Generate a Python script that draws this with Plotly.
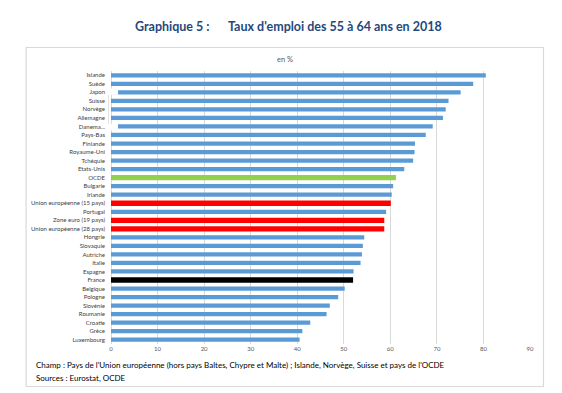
import plotly.graph_objects as go

categories = ["Islande", "Suède", "Japon", "Suisse", "Norvège", "Allemagne", "Danemark",
              "Pays-Bas", "Finlande", "Royaume-Uni", "Tchéquie", "Etats-Unis", "OCDE",
              "Bulgarie", "Irlande", "Union européenne (15 pays)", "Portugal",
              "Zone euro (19 pays)", "Union européenne (28 pays)", "Hongrie", "Slovaquie",
              "Autriche", "Italie", "Espagne", "France", "Belgique", "Pologne", "Slovénie",
              "Roumanie", "Croatie", "Grèce", "Luxembourg"]
tick_labels = ["Islande", "Suède", "Japon", "Suisse", "Norvège", "Allemagne", "Danema...",
               "Pays-Bas", "Finlande", "Royaume-Uni", "Tchéquie", "Etats-Unis", "OCDE",
               "Bulgarie", "Irlande", "Union européenne (15 pays)", "Portugal",
               "Zone euro (19 pays)", "Union européenne (28 pays)", "Hongrie", "Slovaquie",
               "Autriche", "Italie", "Espagne", "France", "Belgique", "Pologne", "Slovénie",
               "Roumanie", "Croatie", "Grèce", "Luxembourg"]
values = [80.5, 77.8, 75.1, 72.5, 71.9, 71.3, 69.1, 67.6, 65.3, 65.2, 64.9, 63.0, 61.2,
          60.6, 60.3, 60.1, 59.1, 58.7, 58.7, 54.4, 54.1, 53.9, 53.6, 52.1, 52.0, 50.2,
          48.8, 47.0, 46.3, 42.8, 41.1, 40.5]
x_ticks = [0, 10, 20, 30, 40, 50, 60, 70, 80, 90]

BLUE = "#5B9BD5"
special = {"OCDE": "#92D050", "Union européenne (15 pays)": "#FF0000",
           "Zone euro (19 pays)": "#FF0000", "Union européenne (28 pays)": "#FF0000",
           "France": "#000000"}
colors = [special.get(c, BLUE) for c in categories]
widths = [0.62 if c in special else 0.5 for c in categories]

W, H = 562, 393
ML, MR, MT, MB = 103, 39.5, 63, 57
pw, ph = W - ML - MR, H - MT - MB


def px2x(p):
    return (p - ML) / pw


def px2y(p):
    return (H - MB - p) / ph


fig = go.Figure(go.Bar(
    y=categories, x=values, orientation="h",
    marker=dict(color=colors, line=dict(width=0)),
    width=widths, hoverinfo="x+y",
))

font_main = "Lato, 'Open Sans', sans-serif"

i_jap = categories.index("Japon")
i_dan = categories.index("Danemark")

fig.update_layout(
    width=W, height=H,
    margin=dict(l=ML, r=MR, t=MT, b=MB, pad=0),
    paper_bgcolor="white", plot_bgcolor="white",
    showlegend=False,
    font=dict(family=font_main, size=6, color="#404040"),
    xaxis=dict(range=[0, 90], tickvals=x_ticks, showgrid=True, gridcolor="#D9D9D9",
               gridwidth=1, zeroline=True, zerolinecolor="#D9D9D9", zerolinewidth=1,
               showline=False, ticks="", tickfont=dict(size=6, color="#595959"),
               fixedrange=True),
    yaxis=dict(categoryorder="array", categoryarray=categories, autorange="reversed",
               tickvals=categories, ticktext=tick_labels, ticks="",
               ticklabelstandoff=5, showgrid=False, showline=False,
               tickfont=dict(size=6, color="#404040"), fixedrange=True),
    shapes=[
        dict(type="rect", xref="paper", yref="paper",
             x0=px2x(18), x1=px2x(536), y0=px2y(378.5), y1=px2y(39.5),
             line=dict(color="#D9D9D9", width=1.2), fillcolor="rgba(0,0,0,0)",
             layer="below"),
        # leftover text-box bracket visible in the source image
        dict(type="rect", xref="paper", yref="y",
             x0=px2x(99.5), x1=px2x(110), y0=i_jap - 0.45, y1=i_jap + 0.3,
             line=dict(width=0), fillcolor="white", layer="above"),
        dict(type="rect", xref="paper", yref="y",
             x0=px2x(99.5), x1=px2x(110), y0=i_dan - 0.3, y1=i_dan + 0.45,
             line=dict(width=0), fillcolor="white", layer="above"),
        dict(type="line", xref="paper", yref="y",
             x0=px2x(100.5), x1=px2x(100.5), y0=i_jap + 0.3, y1=i_dan - 0.3,
             line=dict(color="#E3E3E3", width=1), layer="above"),
    ],
    annotations=[
        dict(text="<b>Graphique 5 :</b>", xref="paper", yref="paper",
             x=px2x(125), y=px2y(19), xanchor="left", yanchor="middle", showarrow=False,
             font=dict(family=font_main, size=12.5, color="#1F497D")),
        dict(text="<b>Taux d'emploi des 55 à 64 ans en 2018</b>", xref="paper", yref="paper",
             x=px2x(218), y=px2y(19), xanchor="left", yanchor="middle", showarrow=False,
             font=dict(family=font_main, size=12.5, color="#1F497D")),
        dict(text="en %", xref="paper", yref="paper",
             x=px2x(277), y=px2y(52), xanchor="center", yanchor="middle", showarrow=False,
             font=dict(family=font_main, size=7.5, color="#595959")),
        dict(text="Champ : Pays de l'Union européenne (hors pays Baltes, Chypre et Malte) ; "
                  "Islande, Norvège, Suisse et pays de l'OCDE",
             xref="paper", yref="paper",
             x=px2x(26), y=px2y(357), xanchor="left", yanchor="middle", showarrow=False,
             font=dict(family=font_main, size=8, color="#000000")),
        dict(text="Sources : Eurostat, OCDE",
             xref="paper", yref="paper",
             x=px2x(26), y=px2y(369.5), xanchor="left", yanchor="middle", showarrow=False,
             font=dict(family=font_main, size=8, color="#000000")),
    ],
)

fig.write_html("out.html")
